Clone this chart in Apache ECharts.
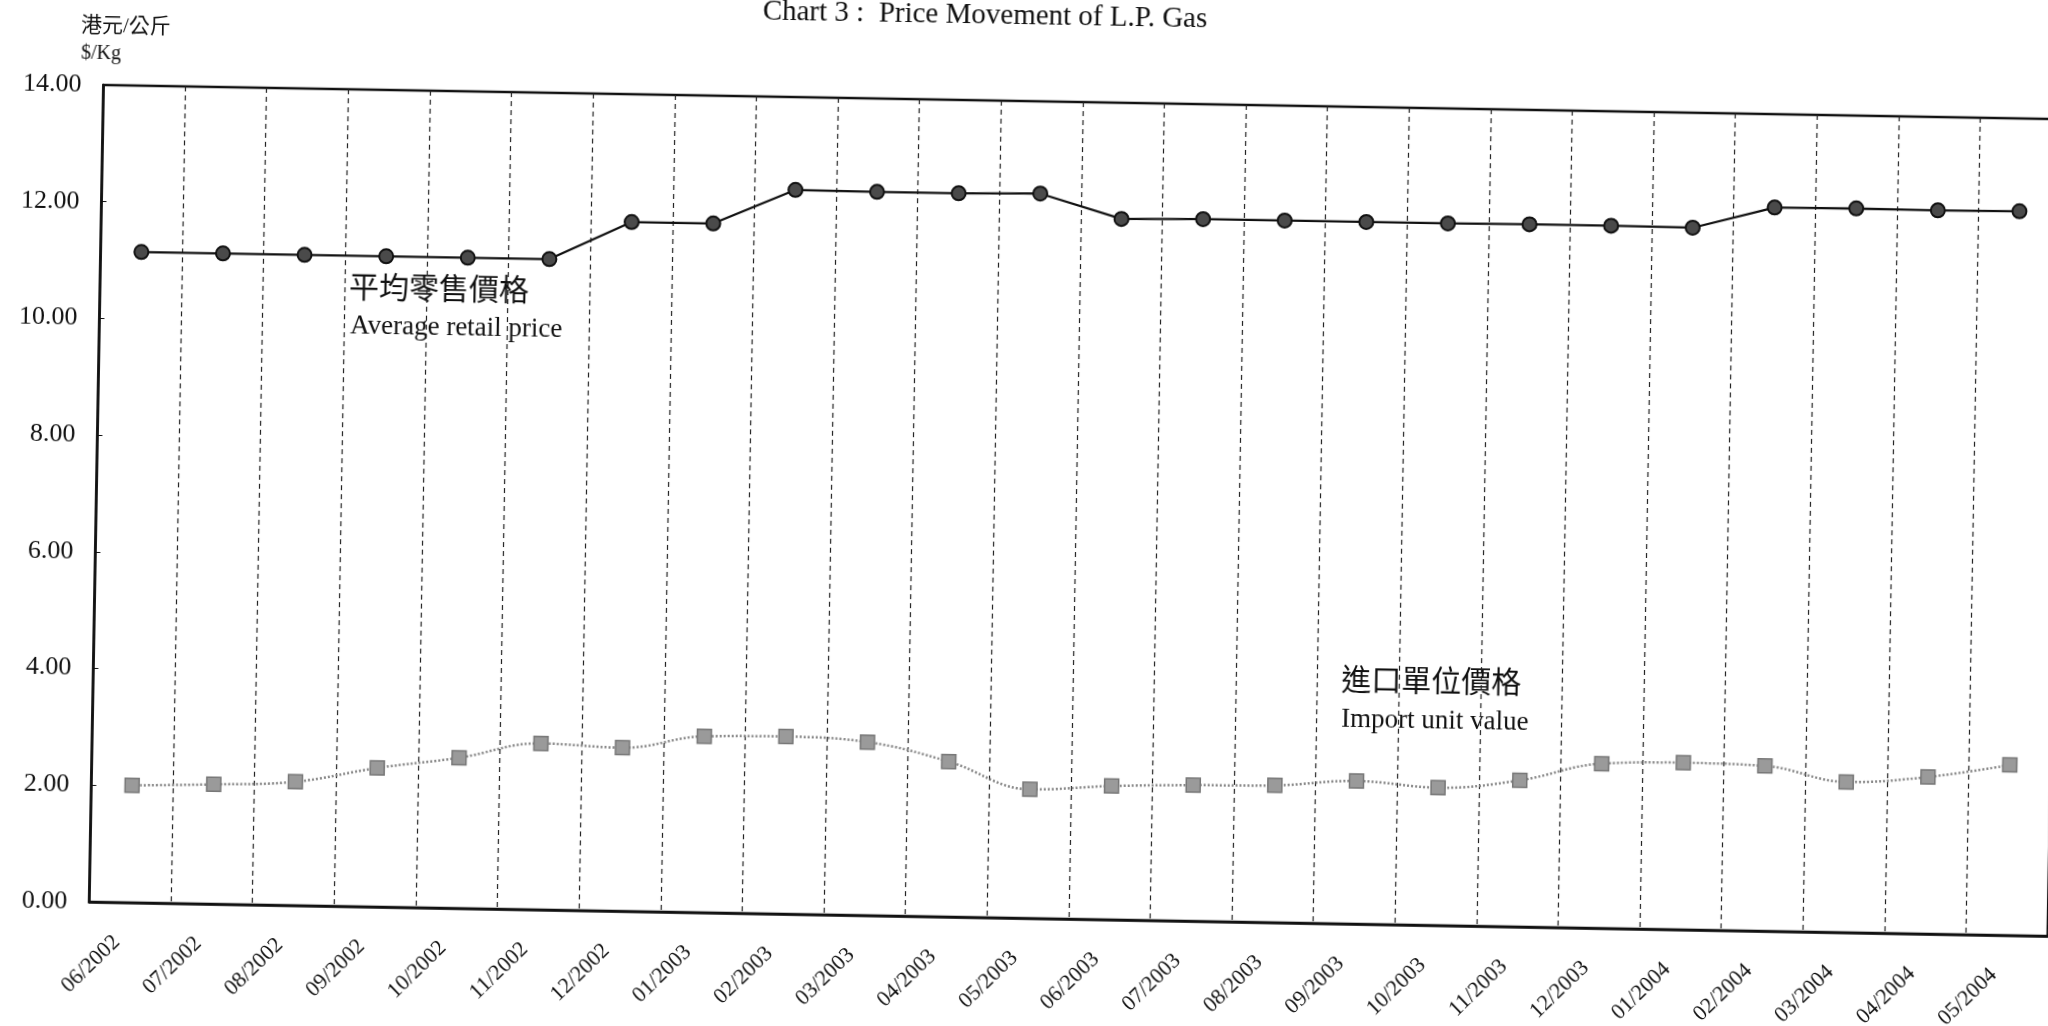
<!DOCTYPE html>
<html>
<head>
<meta charset="utf-8">
<script src="https://cdn.jsdelivr.net/npm/echarts@6/dist/echarts.min.js"></script>
<style>
  html, body { margin:0; padding:0; background:#fff; overflow:hidden; width:2048px; height:1026px; }
  #wrap { position:absolute; left:-20px; top:-60px; width:2150px; height:1120px;
          transform-origin:123.5px 145px; transform:rotate(1deg); }
  #chart { width:2150px; height:1120px; }
</style>
</head>
<body>
<div id="wrap"><div id="chart"></div></div>
<script>
const categories = ['06/2002','07/2002','08/2002','09/2002','10/2002','11/2002','12/2002','01/2003','02/2003','03/2003','04/2003','05/2003','06/2003','07/2003','08/2003','09/2003','10/2003','11/2003','12/2003','01/2004','02/2004','03/2004','04/2004','05/2004'];
const retailPrice = [11.15,11.15,11.15,11.15,11.15,11.15,11.81,11.81,12.41,12.40,12.40,12.42,12.01,12.03,12.03,12.03,12.03,12.04,12.04,12.03,12.40,12.41,12.40,12.41];
const importValue = [2.01,2.05,2.12,2.38,2.58,2.85,2.80,3.02,3.04,2.97,2.66,2.21,2.29,2.33,2.35,2.45,2.36,2.51,2.82,2.86,2.83,2.58,2.69,2.92];
const yMin = 0, yMax = 14, yStep = 2;

const serif = '"Liberation Serif", "Noto Sans CJK TC", serif';
const chart = echarts.init(document.getElementById('chart'), null, {renderer:'canvas'});
chart.setOption({
  backgroundColor: '#fff',
  animation: false,
  grid: { left:123.5, top:145, width:1958.7, height:817, show:true, borderColor:'#111', borderWidth:2.5, backgroundColor:'transparent' },
  xAxis: {
    type:'category', data:categories, boundaryGap:true,
    axisLine:{ show:true, lineStyle:{ color:'#111', width:2.5 } },
    axisTick:{ show:false },
    axisLabel:{ interval:0, rotate:45, margin:24, padding:[0,18,0,0], fontFamily:serif, fontSize:22, color:'#111' },
    splitLine:{ show:true, interval:0, lineStyle:{ color:'#222', width:1.2, type:[5,4] } }
  },
  yAxis: {
    type:'value', min:yMin, max:yMax, interval:yStep,
    axisLine:{ show:true, lineStyle:{ color:'#111', width:2.5 } },
    axisTick:{ show:true, inside:true, length:5, lineStyle:{ color:'#111', width:1 } },
    axisLabel:{ margin:22, fontFamily:serif, fontSize:26, color:'#111', formatter: v => v.toFixed(2) },
    splitLine:{ show:false }
  },
  series: [
    { name:'Average retail price', type:'line', data:retailPrice, smooth:false,
      symbol:'circle', symbolSize:14,
      lineStyle:{ color:'#111', width:2.2 },
      itemStyle:{ color:'#4a4a4a', borderColor:'#111', borderWidth:2 } },
    { name:'Import unit value', type:'line', data:importValue, smooth:0.4,
      symbol:'rect', symbolSize:14,
      lineStyle:{ color:'#888', width:2.5, type:[2,2] },
      itemStyle:{ color:'#9a9a9a', borderColor:'#777', borderWidth:1.5 } }
  ],
  graphic: [
    { type:'text', x:1003.7, y:60.6, style:{ text:'Chart 3 :  Price Movement of L.P. Gas', font:'29px ' + serif, fill:'#111', align:'center', verticalAlign:'middle' } },
    { type:'text', x:100, y:86.4, style:{ text:'港元/公斤', font:'21px ' + serif, fill:'#111', verticalAlign:'middle' } },
    { type:'text', x:100.5, y:113.9, style:{ text:'$/Kg', font:'20px ' + serif, fill:'#111', verticalAlign:'middle' } },
    { type:'text', x:372.6, y:344.7, style:{ text:'平均零售價格', font:'30px ' + serif, fill:'#111', verticalAlign:'middle' } },
    { type:'text', x:374.2, y:382.2, style:{ text:'Average retail price', font:'27px ' + serif, fill:'#111', verticalAlign:'middle' } },
    { type:'text', x:1371.4, y:720.2, style:{ text:'進口單位價格', font:'30px ' + serif, fill:'#111', verticalAlign:'middle' } },
    { type:'text', x:1372, y:758.1, style:{ text:'Import unit value', font:'27px ' + serif, fill:'#111', verticalAlign:'middle' } }
  ]
});
</script>
</body>
</html>
